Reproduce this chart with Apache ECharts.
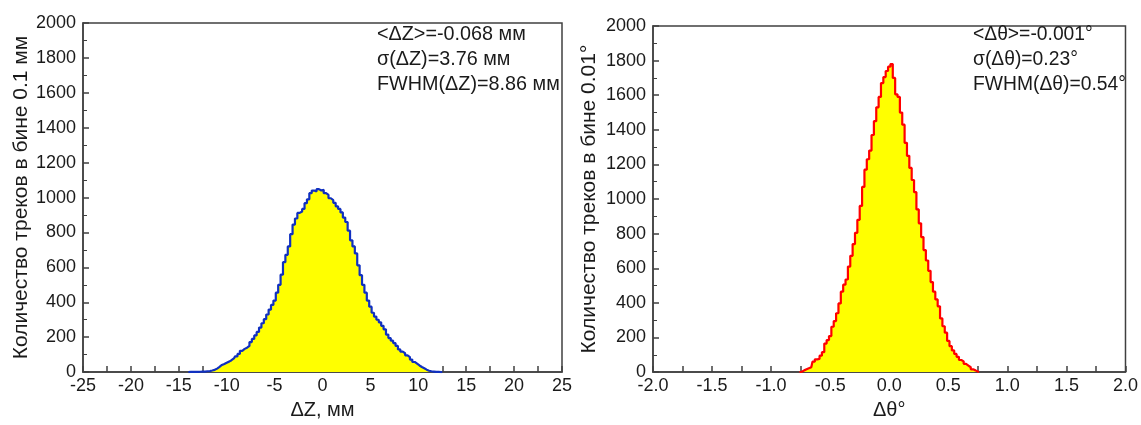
<!DOCTYPE html>
<html>
<head>
<meta charset="utf-8">
<script src="https://cdn.jsdelivr.net/npm/echarts@6/dist/echarts.min.js"></script>
<style>
html,body{margin:0;padding:0;background:#fff;}
#c{width:1141px;height:425px;}
</style>
</head>
<body>
<div id="c"></div>
<script>
// Left histogram: ΔZ (mm), bin centers and counts
const dzX = [-14.0,-13.75,-13.5,-13.25,-13.0,-12.75,-12.5,-12.25,-12.0,-11.75,-11.5,-11.25,-11.0,-10.75,-10.5,-10.25,-10.0,-9.75,-9.5,-9.25,-9.0,-8.75,-8.5,-8.25,-8.0,-7.75,-7.5,-7.25,-7.0,-6.75,-6.5,-6.25,-6.0,-5.75,-5.5,-5.25,-5.0,-4.75,-4.5,-4.25,-4.0,-3.75,-3.5,-3.25,-3.0,-2.75,-2.5,-2.25,-2.0,-1.75,-1.5,-1.25,-1.0,-0.75,-0.5,-0.25,0.0,0.25,0.5,0.75,1.0,1.25,1.5,1.75,2.0,2.25,2.5,2.75,3.0,3.25,3.5,3.75,4.0,4.25,4.5,4.75,5.0,5.25,5.5,5.75,6.0,6.25,6.5,6.75,7.0,7.25,7.5,7.75,8.0,8.25,8.5,8.75,9.0,9.25,9.5,9.75,10.0,10.25,10.5,10.75,11.0,11.25,11.5,11.75,12.0,12.25,12.5];
const dzY = [0,1,1,2,1,2,3,3,5,6,9,13,20,30,41,47,54,60,68,78,90,104,122,133,140,150,172,190,210,230,255,280,303,330,358,385,410,455,500,558,630,672,720,790,845,880,912,920,935,968,990,1025,1040,1035,1048,1040,1045,1025,1015,996,985,970,950,935,915,885,860,810,755,720,680,612,555,500,455,410,375,340,318,300,285,265,245,215,195,180,166,150,130,117,108,96,86,72,58,48,38,29,22,14,8,5,3,1,1,0,0];

// Right histogram: Δθ (deg), bin centers and counts
const dtX = [-0.76,-0.74,-0.72,-0.70,-0.68,-0.66,-0.64,-0.62,-0.60,-0.58,-0.56,-0.54,-0.52,-0.50,-0.48,-0.46,-0.44,-0.42,-0.40,-0.38,-0.36,-0.34,-0.32,-0.30,-0.28,-0.26,-0.24,-0.22,-0.20,-0.18,-0.16,-0.14,-0.12,-0.10,-0.08,-0.06,-0.04,-0.02,0.00,0.02,0.04,0.06,0.08,0.10,0.12,0.14,0.16,0.18,0.20,0.22,0.24,0.26,0.28,0.30,0.32,0.34,0.36,0.38,0.40,0.42,0.44,0.46,0.48,0.50,0.52,0.54,0.56,0.58,0.60,0.62,0.64,0.66,0.68,0.70,0.72,0.74,0.76];
const dtY = [0,2,10,16,22,28,60,74,76,95,115,165,185,208,262,295,340,397,465,505,535,610,672,740,805,880,960,1070,1170,1230,1280,1370,1450,1530,1590,1670,1705,1740,1765,1780,1700,1605,1590,1500,1430,1325,1250,1180,1110,1040,940,860,780,705,645,585,520,465,420,380,310,265,228,180,150,125,105,88,70,62,48,38,28,16,10,3,0];

const leftStats = ['<ΔZ>=-0.068 мм', 'σ(ΔZ)=3.76 мм', 'FWHM(ΔZ)=8.86 мм'];
const rightStats = ['<Δθ>=-0.001°', 'σ(Δθ)=0.23°', 'FWHM(Δθ)=0.54°'];
const leftYName = 'Количество треков в бине 0.1 мм';
const rightYName = 'Количество треков в бине 0.01°';
const leftXName = 'ΔZ, мм';
const rightXName = 'Δθ°';

const FONT = '"Liberation Sans", Arial, sans-serif';
const TXT = '#1a1a1a';
const AX = '#404040';

function xAx(gi, min, max, interval, name, fmt) {
  return {
    type: 'value', gridIndex: gi, min: min, max: max, interval: interval,
    name: name, nameLocation: 'middle', nameGap: 21,
    nameTextStyle: {fontFamily: FONT, fontSize: 20, color: TXT},
    axisLine: {show: true, onZero: false, lineStyle: {color: AX, width: 1.5}},
    axisTick: {show: true, inside: true, length: 6, lineStyle: {color: AX, width: 1.5}},
    minorTick: {show: true, splitNumber: 2, length: 6, lineStyle: {color: AX, width: 1.5}},
    axisLabel: {fontFamily: FONT, fontSize: 18, color: TXT, margin: 5, formatter: fmt},
    splitLine: {show: false}, minorSplitLine: {show: false}
  };
}
function yAx(gi, name, gap) {
  return {
    type: 'value', gridIndex: gi, min: 0, max: 2000, interval: 200,
    name: name, nameLocation: 'middle', nameGap: gap,
    nameTextStyle: {fontFamily: FONT, fontSize: 21, color: TXT},
    axisLine: {show: true, onZero: false, lineStyle: {color: AX, width: 1.5}},
    axisTick: {show: true, inside: true, length: 6, lineStyle: {color: AX, width: 1.5}},
    minorTick: {show: true, splitNumber: 2, length: 4, lineStyle: {color: AX, width: 1}},
    axisLabel: {fontFamily: FONT, fontSize: 18, color: TXT, margin: 7, formatter: v => String(v)},
    splitLine: {show: false}, minorSplitLine: {show: false}
  };
}

function statText(lines, x, size) {
  return lines.map((t, i) => ({
    type: 'text', left: x, top: 25 + i * 25,
    style: {text: t, font: size + 'px ' + FONT, fill: TXT}
  }));
}

const chart = echarts.init(document.getElementById('c'), null, {renderer: 'canvas'});
chart.setOption({
  animation: false,
  backgroundColor: '#fff',
  grid: [
    {left: 83, right: 579, top: 23, bottom: 46, show: true, borderColor: AX, borderWidth: 1.5, backgroundColor: 'transparent'},
    {left: 653, right: 14, top: 26, bottom: 46, show: true, borderColor: AX, borderWidth: 1.5, backgroundColor: 'transparent'}
  ],
  xAxis: [
    xAx(0, -25, 25, 5, leftXName, v => String(v)),
    xAx(1, -2, 2, 0.5, rightXName, v => v.toFixed(1))
  ],
  yAxis: [
    yAx(0, leftYName, 51),
    yAx(1, rightYName, 53)
  ],
  series: [
    {
      type: 'line', xAxisIndex: 0, yAxisIndex: 0, step: 'middle', symbol: 'none',
      data: dzX.map((x, i) => [x, dzY[i]]),
      lineStyle: {color: '#1030C0', width: 2.2},
      areaStyle: {color: '#FFFF00', opacity: 1}
    },
    {
      type: 'line', xAxisIndex: 1, yAxisIndex: 1, step: 'middle', symbol: 'none',
      data: dtX.map((x, i) => [x, dtY[i]]),
      lineStyle: {color: '#FF0000', width: 2.2},
      areaStyle: {color: '#FFFF00', opacity: 1}
    }
  ],
  graphic: statText(leftStats, 377, 19.8).concat(statText(rightStats, 973, 19.3))
});
</script>
</body>
</html>
